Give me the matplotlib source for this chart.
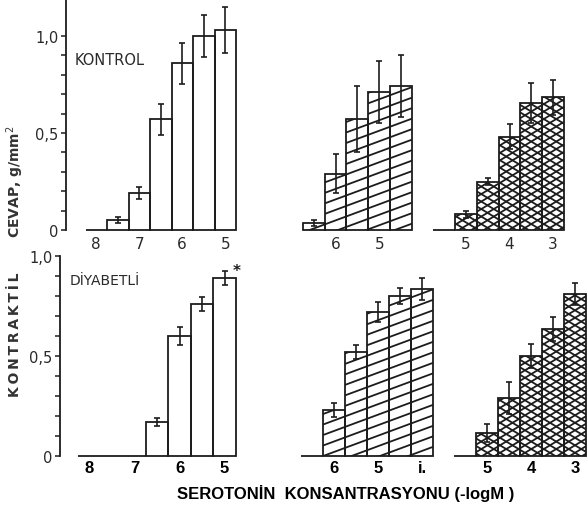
import numpy as np
import matplotlib
matplotlib.use('Agg')
import matplotlib.pyplot as plt
from matplotlib.collections import LineCollection
from matplotlib.transforms import IdentityTransform

W, H = 588, 506
ink = '#1c1c1c'

# --- data (x = -log M serotonin, y = contraction g/mm2) ---
kontrol_x = [8, 7.5, 7, 6.5, 6, 5.5, 5]
kontrol_y = [0, 0.05, 0.19, 0.57, 0.86, 1.0, 1.03]
kontrol_err = [0, 0.015, 0.03, 0.08, 0.105, 0.11, 0.12]

kontrol_b_x = [6.5, 6, 5.5, 5, 4.5]
kontrol_b_y = [0.036, 0.29, 0.57, 0.71, 0.74]
kontrol_b_err = [0.015, 0.10, 0.17, 0.16, 0.16]

kontrol_c_x = [5.5, 5, 4.5, 4, 3.5, 3]
kontrol_c_y = [0, 0.08, 0.25, 0.48, 0.655, 0.685]
kontrol_c_err = [0, 0.02, 0.02, 0.065, 0.105, 0.09]

diyabet_x = [8, 7.5, 7, 6.5, 6, 5.5, 5]
diyabet_y = [0, 0, 0, 0.17, 0.60, 0.76, 0.89]
diyabet_err = [0, 0, 0, 0.02, 0.045, 0.035, 0.035]

diyabet_b_x = [6.5, 6, 5.5, 5, 4.5, 4]
diyabet_b_y = [0, 0.23, 0.52, 0.72, 0.80, 0.835]
diyabet_b_err = [0, 0.035, 0.035, 0.05, 0.04, 0.055]

diyabet_c_x = [5.5, 5, 4.5, 4, 3.5, 3]
diyabet_c_y = [0, 0.115, 0.29, 0.50, 0.635, 0.81]
diyabet_c_err = [0, 0.045, 0.08, 0.06, 0.06, 0.055]

left_ticks = [8, 7, 6, 5]
mid_ticks = [6, 5]
right_ticks = [5, 4, 3]
mid_b_ticks = [6, 5, 4]
mid_b_labels = ['6', '5', 'i.']

fig = plt.figure(figsize=(W / 100, H / 100), dpi=100)


def make_ax(L, R, T, B, v0, p0, k, ytop):
    # axes placed in pixel units, x axis runs from high to low -logM
    ax = fig.add_axes([L / W, 1 - B / H, (R - L) / W, (B - T) / H])
    ax.set_xlim(v0 + (p0 - L) / k, v0 - (R - p0) / k)
    ax.set_ylim(0, ytop)
    for s in ['top', 'right', 'bottom', 'left']:
        ax.spines[s].set_visible(False)
    ax.set_yticks([])
    ax.patch.set_alpha(0)
    return ax


def hatch_bars(ax, bars, slopes, d, lw):
    for b in bars:
        segs = []
        for s in slopes:
            for c in np.arange(-abs(s) * W - d, H + abs(s) * W + d, d):
                segs.append([(0, c), (W, s * W + c)])
        lc = LineCollection(segs, colors=ink, linewidths=lw,
                            transform=IdentityTransform(), zorder=2)
        ax.add_collection(lc, autolim=False)
        # clip to the bar outline (set after add_collection, which resets it)
        lc.set_clip_box(None)
        lc.set_clip_path(b.get_path(), b.get_transform())


def draw(ax, xs, ys, errs, slopes=None, d=10):
    bars = ax.bar(xs, ys, width=0.5, facecolor='none', edgecolor=ink,
                  linewidth=1.3, clip_on=False, zorder=3)
    if slopes:
        hatch_bars(ax, bars.patches, slopes, d, 1.3)
    ex = [x for x, e in zip(xs, errs) if e > 0]
    ey = [y for y, e in zip(ys, errs) if e > 0]
    ee = [e for e in errs if e > 0]
    ax.errorbar(ex, ey, yerr=ee, fmt='none', ecolor=ink, elinewidth=1.2,
                capsize=2.5, capthick=1.2, clip_on=False, zorder=4)


def xlabels(ax, ticks, labels, top):
    ax.set_xticks(ticks)
    if top:
        ax.set_xticklabels(labels, fontsize=11, color='#2a2a2a')
        ax.tick_params(axis='x', length=0, pad=4)
    else:
        ax.set_xticklabels(labels, fontsize=12, fontweight='bold',
                           family='Liberation Sans', color='black')
        ax.tick_params(axis='x', length=0, pad=3)


def yaxis(ax, top):
    ax.spines['left'].set_visible(True)
    ax.spines['left'].set_linewidth(1.3)
    ax.spines['left'].set_color(ink)
    ax.set_yticks([0, 0.5, 1.0])
    ax.set_yticklabels(['0', '0,5', '1,0'], fontsize=10.5, color='#2a2a2a')
    ax.set_yticks(np.arange(0, 1.01, 0.1), minor=True)
    ax.tick_params(axis='y', which='both', length=3.5, width=1.1,
                   color=ink, pad=2)
    if not top:
        ax.spines['left'].set_bounds(0, 1.0)


# top row (KONTROL)
ax1 = make_ax(66, 245, 0, 231, 6, 182.25, 43.0, 231 / 194)
draw(ax1, kontrol_x, kontrol_y, kontrol_err)
xlabels(ax1, left_ticks, [str(t) for t in left_ticks], True)
yaxis(ax1, True)
ax1.text(75, H - 61, 'KONTROL', transform=IdentityTransform(), fontsize=10.5,
         color='#2a2a2a', va='center')

ax2 = make_ax(285, 425, 0, 231, 6, 335.5, 43.7, 231 / 194)
draw(ax2, kontrol_b_x, kontrol_b_y, kontrol_b_err, slopes=[0.37], d=10.5)
xlabels(ax2, mid_ticks, [str(t) for t in mid_ticks], True)

ax3 = make_ax(425, 578, 0, 231, 5, 465.9, 43.6, 231 / 194)
draw(ax3, kontrol_c_x, kontrol_c_y, kontrol_c_err, slopes=[0.6, -0.6], d=7.5)
xlabels(ax3, right_ticks, [str(t) for t in right_ticks], True)

# bottom row (DIYABETLI)
ax4 = make_ax(60, 245, 250, 457, 6, 179.6, 45.0, 207 / 200)
draw(ax4, diyabet_x, diyabet_y, diyabet_err)
xlabels(ax4, left_ticks, [str(t) for t in left_ticks], False)
yaxis(ax4, False)
ax4.text(70, H - 281, 'DİYABETLİ', transform=IdentityTransform(),
         fontsize=10, color='#2a2a2a', va='center')
ax4.text(237, H - 272, '*', transform=IdentityTransform(), fontsize=11,
         fontweight='bold', color=ink, ha='center', va='center')

ax5 = make_ax(285, 445, 250, 457, 6, 334.0, 44.0, 207 / 200)
draw(ax5, diyabet_b_x, diyabet_b_y, diyabet_b_err, slopes=[0.37], d=10.5)
xlabels(ax5, mid_b_ticks, mid_b_labels, False)

ax6 = make_ax(445, 588, 250, 457, 5, 487.0, 44.0, 207 / 200)
draw(ax6, diyabet_c_x, diyabet_c_y, diyabet_c_err, slopes=[0.6, -0.6], d=7.5)
xlabels(ax6, right_ticks, [str(t) for t in right_ticks], False)

# axis titles
fig.text(15 / W, 1 - 335 / H, '\u2009'.join('KONTRAKTİL'), rotation=90,
         ha='center', va='center', fontsize=10, fontweight='bold',
         color='#333333')
fig.text(15 / W, 1 - 182 / H, 'CEVAP, g/mm$^2$', rotation=90,
         ha='center', va='center', fontsize=10, fontweight='bold',
         color='#333333')
fig.text(346 / W, 1 - 494 / H, 'SEROTONİN  KONSANTRASYONU (-logM )',
         ha='center', va='center', fontsize=12, fontweight='bold',
         family='Liberation Sans', color='black')

fig.savefig('out.png', dpi=100)
